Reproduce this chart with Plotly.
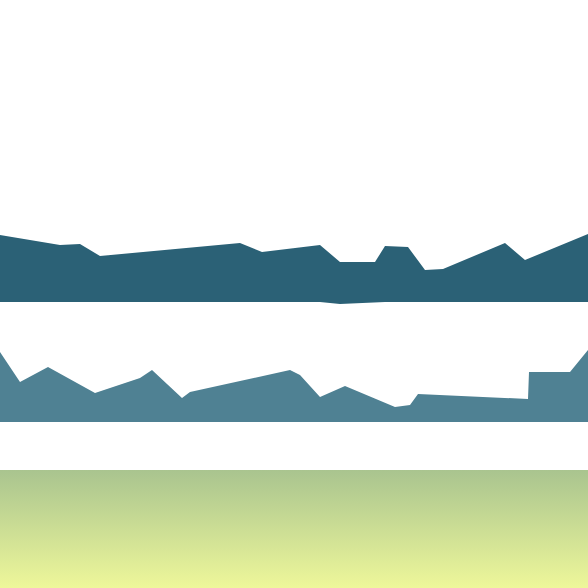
import plotly.graph_objects as go

# top edges of the two bands (pixel-like units, y grows downward)
dark_x = [0, 60, 80, 100, 240, 262, 320, 340, 375, 385, 408, 425, 443, 505, 525, 588]
dark_top = [235, 245, 244, 256, 243, 252, 245, 262, 262, 246, 247, 270, 269, 243, 260, 234]
dark_bottom = [302, 302, 302, 302, 302, 302, 302, 304, 302, 302, 302, 302, 302, 302, 302, 302]

light_x = [0, 20, 48, 95, 140, 152, 182, 190, 290, 300, 320, 345, 395, 410, 418, 528, 529, 570, 588]
light_top = [352, 382, 367, 393, 378, 370, 398, 392, 370, 375, 397, 386, 407, 405, 394, 399, 372, 372, 350]
light_bottom = [422] * len(light_x)

band_x = [0, 588, 588, 0, 0]
band_y = [470, 470, 588, 588, 470]

fig = go.Figure()

fig.add_trace(go.Scatter(x=dark_x, y=dark_bottom, mode='lines', line=dict(width=0), showlegend=False))
fig.add_trace(go.Scatter(x=dark_x, y=dark_top, mode='lines', line=dict(width=0, color='#2b6176'),
                         fill='tonexty', fillcolor='#2b6176', showlegend=False))

fig.add_trace(go.Scatter(x=light_x, y=light_bottom, mode='lines', line=dict(width=0), showlegend=False))
fig.add_trace(go.Scatter(x=light_x, y=light_top, mode='lines', line=dict(width=0, color='#4f8193'),
                         fill='tonexty', fillcolor='#4f8193', showlegend=False))

fig.add_trace(go.Scatter(x=band_x, y=band_y, mode='lines', line=dict(width=0), fill='toself',
                         fillgradient=dict(type='vertical', start=470, stop=588,
                                           colorscale=[[0, '#a9c48f'], [1, '#eef79a']]),
                         showlegend=False))

fig.update_layout(width=588, height=588, margin=dict(l=0, r=0, t=0, b=0),
                  paper_bgcolor='white', plot_bgcolor='white',
                  xaxis=dict(range=[0, 588], visible=False, fixedrange=True),
                  yaxis=dict(range=[588, 0], visible=False, fixedrange=True))

# drop the default page margin so the plot sits flush with the window
fig.write_html("out.html", config={'displayModeBar': False},
               post_script="document.body.style.margin='0';document.body.style.overflow='hidden';")
